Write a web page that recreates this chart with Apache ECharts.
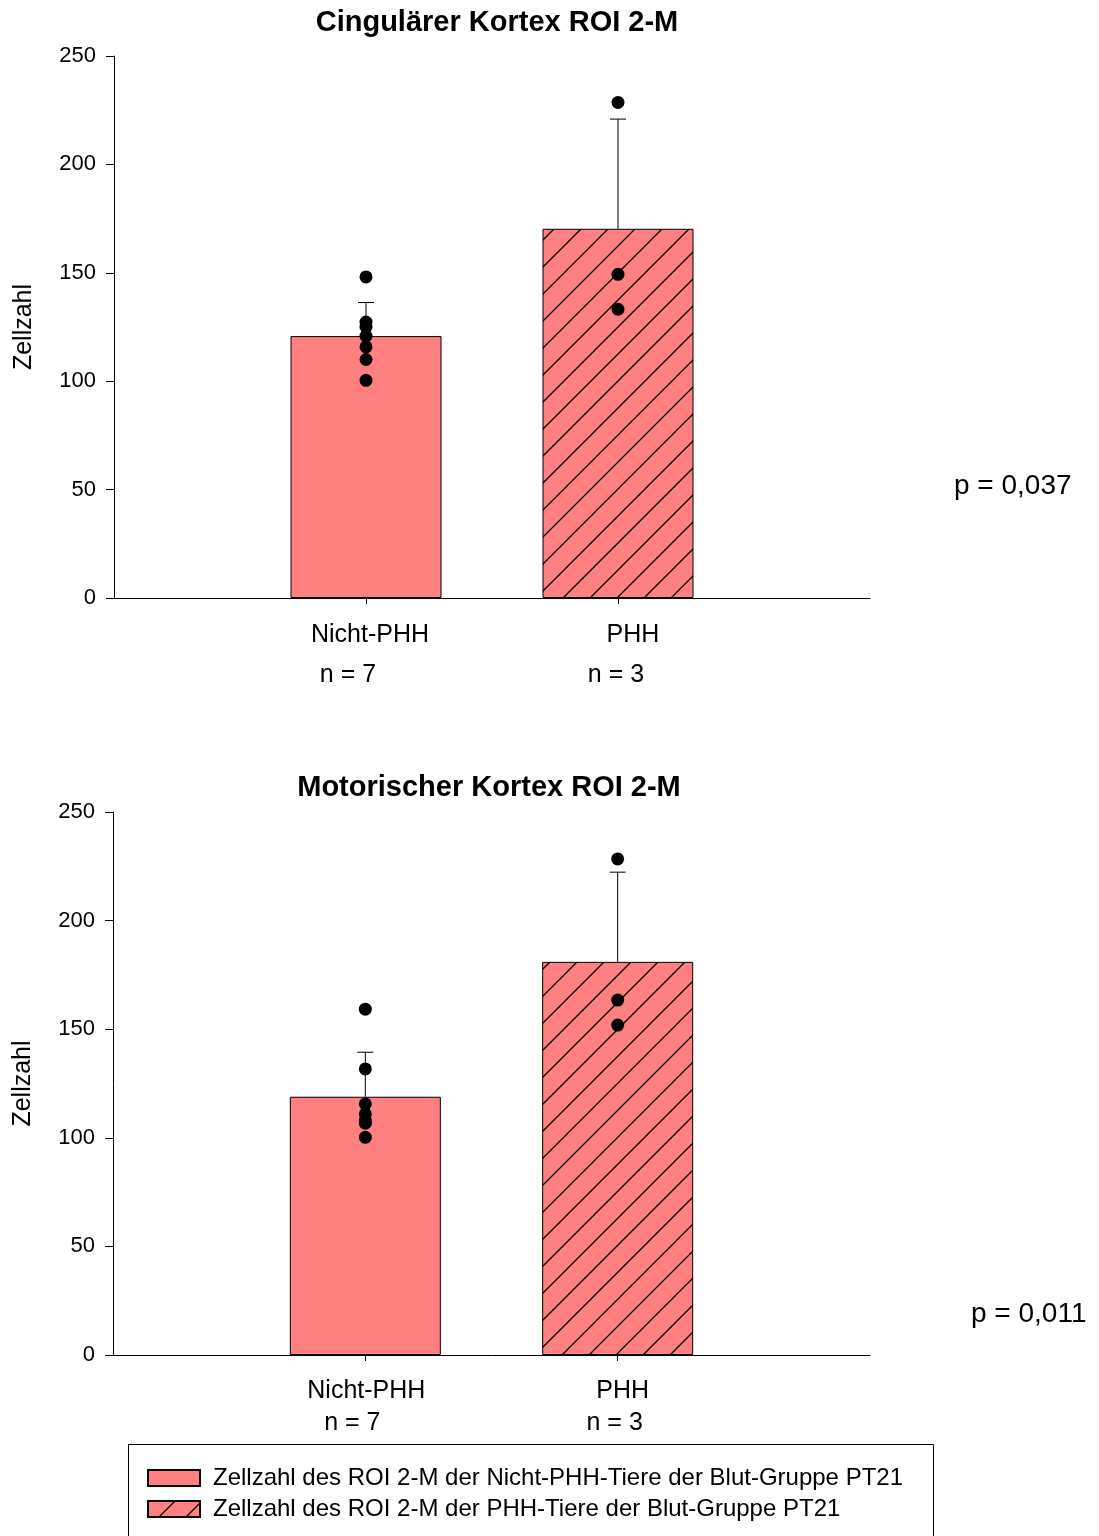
<!DOCTYPE html>
<html>
<head>
<meta charset="utf-8">
<script src="https://cdn.jsdelivr.net/npm/echarts@6/dist/echarts.min.js"></script>
<style>
html,body{margin:0;padding:0;background:#fff;}
#chart{width:1099px;height:1536px;}
</style>
</head>
<body>
<div id="chart"></div>
<script>
// ---- data ----
const categories = ['Nicht-PHH', 'PHH'];
const nLabels = ['n = 7', 'n = 3'];
const titles = ['Cingulärer Kortex ROI 2-M', 'Motorischer Kortex ROI 2-M'];
const pValues = ['p = 0,037', 'p = 0,011'];
const yTicks = [0, 50, 100, 150, 200, 250];

const cingMean = [120.8, 170.3];
const cingErrTop = [136.3, 220.9];
const cingNichtPts = [148.1, 127.3, 125.0, 120.8, 115.8, 110.0, 100.4];
const cingPhhPts = [228.6, 149.3, 133.2];

const motMean = [118.9, 181.0];
const motErrTop = [139.4, 222.3];
const motNichtPts = [159.2, 131.7, 115.6, 111.0, 108.0, 106.7, 100.2];
const motPhhPts = [228.4, 163.4, 151.9];

const legendNames = [
  'Zellzahl des ROI 2-M der Nicht-PHH-Tiere der Blut-Gruppe PT21',
  'Zellzahl des ROI 2-M der PHH-Tiere der Blut-Gruppe PT21'
];

// ---- styles ----
const FONT = '"Liberation Sans", Arial, sans-serif';
const FILL = '#FF8080';

function hatchPattern() {
  const s = 27;
  const c = document.createElement('canvas');
  c.width = s; c.height = s;
  const g = c.getContext('2d');
  g.fillStyle = FILL;
  g.fillRect(0, 0, s, s);
  g.strokeStyle = '#000';
  g.lineWidth = 1.3;
  g.beginPath();
  g.moveTo(-2, s + 2); g.lineTo(s + 2, -2);
  g.moveTo(-2, 2); g.lineTo(2, -2);
  g.moveTo(s - 2, s + 2); g.lineTo(s + 2, s - 2);
  g.stroke();
  return c;
}
const hatch = { image: hatchPattern(), repeat: 'repeat' };

const axisCats = [''].concat(categories, ['']);

const grids = [
  { left: 114, width: 756, top: 56, height: 542 },
  { left: 113, width: 757, top: 812, height: 543 }
];

function xAxis(i) {
  return {
    type: 'category', gridIndex: i, data: axisCats, boundaryGap: false,
    axisLine: { lineStyle: { color: '#000', width: 1 } },
    axisTick: { show: true, length: 6, interval: (idx) => idx === 1 || idx === 2, lineStyle: { color: '#000' } },
    axisLabel: { show: false },
    splitLine: { show: false }
  };
}
function yAxis(i) {
  return {
    type: 'value', gridIndex: i, min: yTicks[0], max: yTicks[yTicks.length - 1], interval: 50,
    name: 'Zellzahl', nameLocation: 'middle', nameRotate: 90, nameGap: 77,
    nameTextStyle: { fontFamily: FONT, fontSize: 25, color: '#000' },
    axisLine: { show: true, lineStyle: { color: '#000', width: 1 } },
    axisTick: { show: true, length: 8, inside: false, lineStyle: { color: '#000' } },
    axisLabel: { fontFamily: FONT, fontSize: 22, color: '#000', margin: 18 },
    splitLine: { show: false }
  };
}

function barSeries(i, name, idx, value, color) {
  const data = axisCats.map((_, k) => (k === idx ? value : '-'));
  return {
    type: 'bar', name: name, xAxisIndex: i, yAxisIndex: i, data: data,
    barWidth: 151, barGap: '-100%', z: 2,
    itemStyle: { color: color, borderColor: '#000', borderWidth: 1 }
  };
}
function errSeries(i, means, tops) {
  return {
    type: 'custom', xAxisIndex: i, yAxisIndex: i, z: 3, silent: true,
    encode: { x: 0, y: [1, 2] },
    data: means.map((m, k) => [k + 1, m, tops[k]]),
    renderItem: function (params, api) {
      const p0 = api.coord([api.value(0), api.value(1)]);
      const p1 = api.coord([api.value(0), api.value(2)]);
      const hw = 8;
      const st = { stroke: '#000', lineWidth: 1 };
      return {
        type: 'group', children: [
          { type: 'line', shape: { x1: p0[0], y1: p0[1], x2: p1[0], y2: p1[1] }, style: st },
          { type: 'line', shape: { x1: p1[0] - hw, y1: p1[1], x2: p1[0] + hw, y2: p1[1] }, style: st }
        ]
      };
    }
  };
}
function ptSeries(i, idx, pts) {
  return {
    type: 'scatter', xAxisIndex: i, yAxisIndex: i, z: 4, symbol: 'circle', symbolSize: 13,
    itemStyle: { color: '#000', opacity: 1 }, data: pts.map(v => [idx, v])
  };
}

const chart = echarts.init(document.getElementById('chart'), null, { renderer: 'canvas' });

const option = {
  backgroundColor: '#fff',
  animation: false,
  grid: grids,
  xAxis: [xAxis(0), xAxis(1)],
  yAxis: [yAxis(0), yAxis(1)],
  legend: {
    orient: 'vertical', left: 147, top: 1466, padding: 0,
    itemWidth: 52, itemHeight: 16, itemGap: 7, icon: 'rect',
    data: legendNames,
    textStyle: { fontFamily: FONT, fontSize: 24, color: '#000', padding: [0, 0, 0, 8] },
    selectedMode: false
  },
  series: [
    barSeries(0, legendNames[0], 1, cingMean[0], FILL),
    barSeries(0, legendNames[1], 2, cingMean[1], hatch),
    errSeries(0, cingMean, cingErrTop),
    ptSeries(0, 1, cingNichtPts),
    ptSeries(0, 2, cingPhhPts),
    barSeries(1, legendNames[0], 1, motMean[0], FILL),
    barSeries(1, legendNames[1], 2, motMean[1], hatch),
    errSeries(1, motMean, motErrTop),
    ptSeries(1, 1, motNichtPts),
    ptSeries(1, 2, motPhhPts)
  ]
};
chart.setOption(option);

// ---- text annotations placed relative to the axes ----
function txt(x, y, s, size, bold, align) {
  return {
    type: 'text', x: x, y: y, silent: true,
    style: { text: s, fontFamily: FONT, fontSize: size, fontWeight: bold ? 'bold' : 'normal',
      fill: '#000', align: align || 'center', verticalAlign: 'middle' }
  };
}
const g = [];
// titles
g.push(txt(497, 23, titles[0], 29, true));
g.push(txt(489, 788, titles[1], 29, true));
// category & n labels
const labelOff = [
  { cat: [4, 15], n: [-18, -2], yc: 635, yn: 675 },
  { cat: [1, 5], n: [-13, -3], yc: 1391, yn: 1423 }
];
for (let i = 0; i < 2; i++) {
  categories.forEach((c, k) => {
    const px = chart.convertToPixel({ xAxisIndex: i }, k + 1);
    g.push(txt(px + labelOff[i].cat[k], labelOff[i].yc, c, 25, false));
    g.push(txt(px + labelOff[i].n[k], labelOff[i].yn, nLabels[k], 25, false));
  });
}
// p values
g.push(txt(954, 486, pValues[0], 28, false, 'left'));
g.push(txt(971, 1314, pValues[1], 28, false, 'left'));
// legend frame
g.push({ type: 'rect', silent: true, shape: { x: 128.5, y: 1444.5, width: 805, height: 120 },
  style: { fill: null, stroke: '#000', lineWidth: 1 }, z: -1 });

chart.setOption({ graphic: g });
</script>
</body>
</html>
